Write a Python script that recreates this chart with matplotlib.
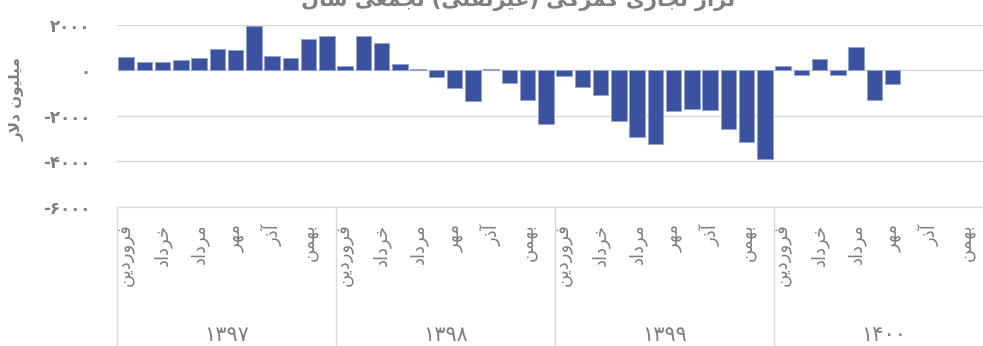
import numpy as np
import matplotlib.pyplot as plt
from matplotlib.transforms import blended_transform_factory

# Persian letter forms: isolated, final, initial, medial (None = no forward join)
FORMS = {
    'ا': ('\uFE8D', '\uFE8E', None, None),
    'آ': ('\uFE81', '\uFE82', None, None),
    'ب': ('\uFE8F', '\uFE90', '\uFE91', '\uFE92'),
    'ت': ('\uFE95', '\uFE96', '\uFE97', '\uFE98'),
    'ج': ('\uFE9D', '\uFE9E', '\uFE9F', '\uFEA0'),
    'خ': ('\uFEA5', '\uFEA6', '\uFEA7', '\uFEA8'),
    'د': ('\uFEA9', '\uFEAA', None, None),
    'ذ': ('\uFEAB', '\uFEAC', None, None),
    'ر': ('\uFEAD', '\uFEAE', None, None),
    'ز': ('\uFEAF', '\uFEB0', None, None),
    'س': ('\uFEB1', '\uFEB2', '\uFEB3', '\uFEB4'),
    'ش': ('\uFEB5', '\uFEB6', '\uFEB7', '\uFEB8'),
    'ع': ('\uFEC9', '\uFECA', '\uFECB', '\uFECC'),
    'غ': ('\uFECD', '\uFECE', '\uFECF', '\uFED0'),
    'ف': ('\uFED1', '\uFED2', '\uFED3', '\uFED4'),
    'ک': ('\uFB8E', '\uFB8F', '\uFB90', '\uFB91'),
    'گ': ('\uFB92', '\uFB93', '\uFB94', '\uFB95'),
    'ل': ('\uFEDD', '\uFEDE', '\uFEDF', '\uFEE0'),
    'م': ('\uFEE1', '\uFEE2', '\uFEE3', '\uFEE4'),
    'ن': ('\uFEE5', '\uFEE6', '\uFEE7', '\uFEE8'),
    'ه': ('\uFEE9', '\uFEEA', '\uFEEB', '\uFEEC'),
    'و': ('\uFEED', '\uFEEE', None, None),
    'ی': ('\uFBFC', '\uFBFD', '\uFBFE', '\uFBFF'),
}
LAM_ALEF = {'ا': ('\uFEFB', '\uFEFC'), 'آ': ('\uFEF5', '\uFEF6')}
MIRROR = {'(': ')', ')': '('}


def fa(text):
    # shape Persian text and put it in visual (left-to-right) order
    chars = list(text)
    out = []
    i = 0
    while i < len(chars):
        c = chars[i]
        if c not in FORMS:
            out.append(MIRROR.get(c, c))
            i += 1
            continue
        prev = chars[i - 1] if i > 0 else ''
        nxt = chars[i + 1] if i + 1 < len(chars) else ''
        join_prev = prev in FORMS and FORMS[prev][2] is not None
        if c == 'ل' and nxt in LAM_ALEF:
            out.append(LAM_ALEF[nxt][1 if join_prev else 0])
            i += 2
            continue
        iso, fin, ini, med = FORMS[c]
        join_next = ini is not None and nxt in FORMS
        if join_prev and join_next:
            g = med
        elif join_prev:
            g = fin
        elif join_next:
            g = ini
        else:
            g = iso
        out.append(g)
        i += 1
    return ''.join(reversed(out))


FA_DIGITS = str.maketrans('0123456789', '۰۱۲۳۴۵۶۷۸۹')


def fa_num(v):
    s = str(abs(int(v))).translate(FA_DIGITS)
    return ('-' if v < 0 else '') + s


# data
title = 'تراز تجاری گمرکی (غیرنفتی) تجمعی سال'
ylabel = 'میلیون دلار'
years = ['۱۳۹۷', '۱۳۹۸', '۱۳۹۹', '۱۴۰۰']
months = ['فروردین', 'اردیبهشت', 'خرداد', 'تیر', 'مرداد', 'شهریور',
          'مهر', 'آبان', 'آذر', 'دی', 'بهمن', 'اسفند']
bal_1397 = [555, 363, 336, 437, 524, 931, 904, 1930, 625, 538, 1355, 1490]
bal_1398 = [175, 1480, 1180, 262, 40, -280, -787, -1340, 45, -570, -1330, -2360]
bal_1399 = [-277, -743, -1105, -2213, -2912, -3220, -1790, -1690, -1750, -2580, -3130, -3905]
bal_1400 = [160, -220, 500, -200, 1020, -1300, -600, np.nan, np.nan, np.nan, np.nan, np.nan]
yticks = [-6000, -4000, -2000, 0, 2000]

values = np.array(bal_1397 + bal_1398 + bal_1399 + bal_1400, dtype=float)
x = np.arange(len(values))

gray = '#7F7F7F'
plt.rcParams['font.family'] = ['DejaVu Sans']

W, H = 983, 346
fig = plt.figure(figsize=(W / 100, H / 100), dpi=100)
ax = fig.add_axes([117 / W, 1 - 207 / H, 876 / W, 182.5 / H])

ax.bar(x, values, width=0.86, color='#3B52A1', edgecolor='#93A3D3', linewidth=0.7, zorder=3)

ax.set_xlim(-0.5, len(values) - 0.5)
ax.set_ylim(-6000, 2000)
ax.set_yticks(yticks)
ax.set_yticklabels([fa_num(v) for v in yticks], fontsize=12, fontweight='bold', color=gray)
ax.yaxis.grid(True, color='#D9D9D9', linewidth=1)
ax.set_axisbelow(True)
for s in ['top', 'right', 'left']:
    ax.spines[s].set_visible(False)
ax.spines['bottom'].set_color('#D9D9D9')
ax.tick_params(axis='y', length=0, pad=19)

# month labels, every other month
tick_pos = x[::2]
tick_lab = [fa(months[i % 12]) for i in tick_pos]
ax.set_xticks(tick_pos)
ax.set_xticklabels(tick_lab, rotation=90, fontsize=13, color=gray)
ax.tick_params(axis='x', length=0, pad=12)

# year groups
trans = blended_transform_factory(ax.transData, ax.transAxes)
for k in range(len(years) + 1):
    ax.plot([12 * k - 0.5, 12 * k - 0.5], [0, -0.8], transform=trans,
            color='#D9D9D9', linewidth=1, clip_on=False)
for k, yr in enumerate(years):
    ax.text(12 * k + 5.5, -0.70, yr, transform=trans, ha='center', va='center',
            fontsize=15, color=gray)

fig.text(17 / W, 1 - 99 / H, fa(ylabel), rotation=90, ha='center', va='center',
         fontsize=11, fontweight='bold', color=gray)
fig.text(518 / W, 1 - 6 / H, fa(title), ha='center', va='baseline',
         fontsize=15, fontweight='bold', color=gray)

fig.savefig('out.png', dpi=100)
